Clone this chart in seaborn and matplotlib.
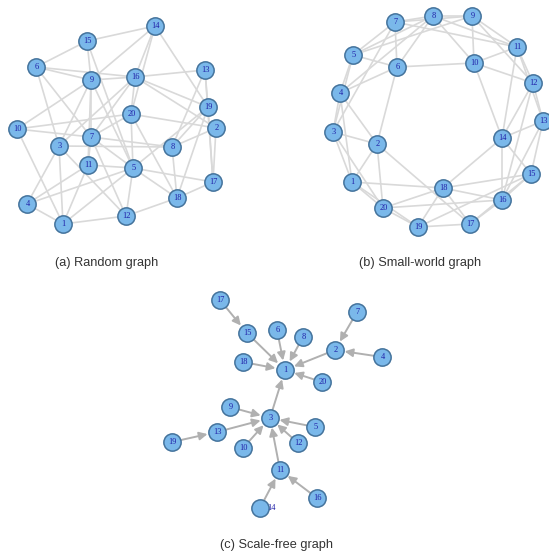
import matplotlib
matplotlib.use("Agg")
import matplotlib.pyplot as plt
from matplotlib.collections import LineCollection
from matplotlib.patches import FancyArrowPatch
import seaborn as sns
import pandas as pd

# ---------------- node layouts (canvas units, y grows downward) ----------------
random_ids = [14, 15, 6, 9, 16, 13, 19, 20, 2, 10, 7, 3, 8, 11, 5, 17, 18, 4, 12, 1]
random_x = [155, 87, 36, 91, 135, 205, 208, 131, 216, 17, 91, 59, 172, 88, 133, 213, 177, 27, 126, 63]
random_y = [26, 41, 67, 80, 77, 70, 107, 114, 128, 129, 137, 146, 147, 165, 168, 182, 198, 204, 216, 224]
random_edges = [
    (15, 14), (15, 6), (15, 9), (15, 5), (6, 9), (6, 16), (6, 3), (6, 7),
    (14, 16), (14, 20), (14, 9), (14, 19), (9, 16), (16, 13), (9, 7), (9, 11),
    (9, 3), (9, 10), (9, 5), (16, 19), (16, 2), (16, 20), (16, 7), (16, 3),
    (13, 19), (13, 17), (19, 17), (13, 8), (19, 8), (19, 18), (20, 10), (20, 2),
    (20, 5), (20, 18), (20, 7), (10, 7), (10, 1), (7, 8), (7, 5), (7, 12),
    (7, 11), (3, 8), (3, 1), (3, 4), (3, 12), (11, 5), (11, 1), (11, 4),
    (5, 4), (5, 17), (5, 18), (5, 12), (5, 1), (8, 18), (8, 2), (18, 17),
    (18, 12), (12, 1), (4, 1), (2, 17), (19, 5),
]

small_ids = [7, 8, 9, 11, 5, 6, 10, 12, 4, 13, 3, 14, 2, 15, 1, 18, 16, 20, 17, 19]
small_x = [395, 433, 472, 517, 353, 397, 474, 533, 340, 543, 333, 502, 377, 531, 352, 443, 502, 383, 470, 418]
small_y = [22, 16, 16, 47, 55, 67, 63, 83, 93, 121, 132, 138, 144, 174, 182, 188, 200, 208, 224, 227]
small_edges = [
    (1, 2), (2, 3), (3, 4), (4, 5), (5, 6), (6, 7), (7, 8), (8, 9), (9, 10),
    (10, 11), (11, 12), (12, 13), (13, 14), (14, 15), (15, 16), (16, 17),
    (17, 18), (18, 19), (19, 20), (20, 1),
    (1, 3), (2, 4), (3, 5), (4, 6), (5, 7), (6, 8), (7, 9), (8, 10), (9, 11),
    (10, 12), (11, 13), (12, 14), (13, 15), (14, 16), (15, 17), (16, 18),
    (17, 19), (18, 20), (19, 1), (20, 2),
    (2, 6), (6, 10), (10, 14), (14, 18), (2, 17), (1, 18), (15, 18),
    (4, 8), (5, 9), (7, 11), (8, 11), (9, 12), (12, 16), (13, 16),
    (3, 7), (1, 4), (20, 16), (19, 15), (3, 20), (5, 8), (11, 14),
]

free_ids = [17, 7, 15, 6, 8, 2, 4, 18, 1, 20, 9, 3, 5, 13, 19, 10, 12, 11, 16, 14]
free_x = [220, 357, 247, 277, 303, 335, 382, 243, 285, 322, 230, 270, 315, 217, 172, 243, 298, 280, 317, 260]
free_y = [300, 312, 333, 330, 337, 350, 357, 362, 370, 382, 407, 418, 427, 432, 442, 448, 443, 470, 498, 508]
free_edges = [
    (17, 15), (15, 1), (6, 1), (8, 1), (18, 1), (2, 1), (20, 1), (7, 2),
    (4, 2), (3, 1), (9, 3), (13, 3), (19, 13), (10, 3), (12, 3), (5, 3),
    (11, 3), (14, 11), (16, 11),
]

panel_titles = ["(a) Random graph", "(b) Small-world graph", "(c) Scale-free graph"]
title_x = [107, 420, 277]
title_y = [263, 263, 545]

# ---------------- styling ----------------
NODE_FILL = "#7ab8ea"
NODE_EDGE = "#44739c"
LABEL_COLOR = "#2020a8"
EDGE_COLOR = "#d9d9d9"
ARROW_COLOR = "#b0b0b0"

sns.set_theme(style="white")
plt.rcParams["font.family"] = ["Liberation Sans", "DejaVu Sans"]

fig = plt.figure(figsize=(5.49, 5.53), dpi=100)
ax = fig.add_axes([0, 0, 1, 1])
ax.set_xlim(0, 549)
ax.set_ylim(553, 0)
ax.axis("off")


def layout(ids, xs, ys):
    return pd.DataFrame({"node": ids, "x": xs, "y": ys}).set_index("node")


def draw_nodes(df, label_shift=None):
    label_shift = label_shift or {}
    sns.scatterplot(data=df, x="x", y="y", ax=ax, s=155, color=NODE_FILL,
                    edgecolor=NODE_EDGE, linewidth=1.1, zorder=3, legend=False)
    for node, row in df.iterrows():
        dx = label_shift.get(node, 0.8)
        ax.text(row.x + dx, row.y + 0.3, str(node), ha="center", va="center",
                fontsize=6.0, color=LABEL_COLOR, family="Liberation Serif", zorder=5)


def draw_edges(df, edges):
    segs = [[(df.loc[a, "x"], df.loc[a, "y"]), (df.loc[b, "x"], df.loc[b, "y"])]
            for a, b in edges]
    ax.add_collection(LineCollection(segs, colors=EDGE_COLOR, linewidths=1.2, zorder=1))


def draw_arrows(df, edges):
    for a, b in edges:
        arr = FancyArrowPatch((df.loc[a, "x"], df.loc[a, "y"]),
                              (df.loc[b, "x"], df.loc[b, "y"]),
                              arrowstyle="-|>", mutation_scale=12,
                              color=ARROW_COLOR, linewidth=1.4,
                              shrinkA=6, shrinkB=7, zorder=2)
        ax.add_patch(arr)


rand = layout(random_ids, random_x, random_y)
small = layout(small_ids, small_x, small_y)
free = layout(free_ids, free_x, free_y)

draw_edges(rand, random_edges)
draw_nodes(rand)
draw_edges(small, small_edges)
draw_nodes(small)
draw_arrows(free, free_edges)
draw_nodes(free, label_shift={14: 11})

for t, x, y in zip(panel_titles, title_x, title_y):
    ax.text(x, y, t, ha="center", va="center", fontsize=9.2, color="#333333")

fig.savefig("out.png", dpi=100, facecolor="white")
